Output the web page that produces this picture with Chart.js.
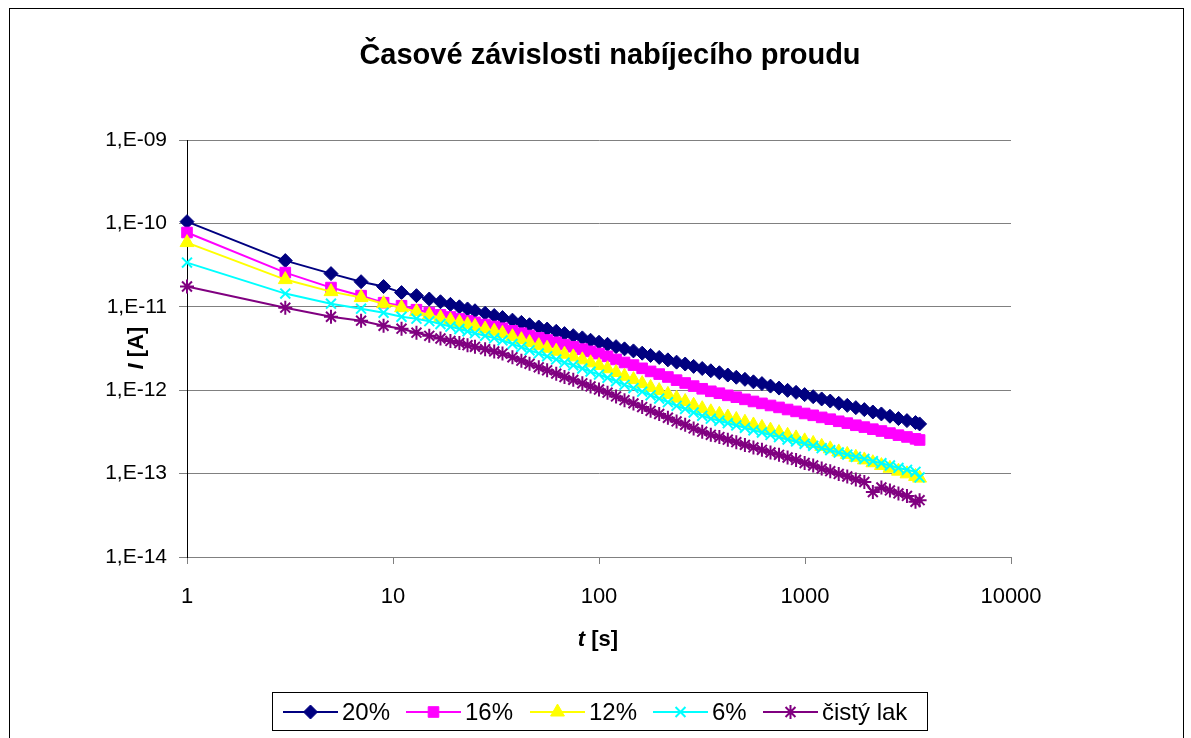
<!DOCTYPE html>
<html>
<head>
<meta charset="utf-8">
<script src="https://cdn.jsdelivr.net/npm/chart.js@4.4.0/dist/chart.umd.min.js"></script>
<style>
  html, body { margin: 0; padding: 0; background: #fff; }
  #chart { display: block; }
</style>
</head>
<body>
<canvas id="chart" width="1191" height="738"></canvas>
<script>
// time points [s]
const times = [1, 3, 5, 7, 9, 11, 13,
  15, 17, 19, 21, 23, 25, 28, 31, 34, 38, 42, 46, 51, 56, 62, 68, 75, 83, 91,
  100, 110, 121, 133, 147, 162, 178, 196, 216, 238, 262, 288, 317, 349, 384, 422, 464, 511, 562, 618,
  680, 748, 823, 905, 996, 1096, 1205, 1326, 1458, 1604, 1765, 1941, 2135, 2349, 2584, 2842, 3126, 3439, 3600];

// currents [A]
const i20 = [1.05e-10, 3.58e-11, 2.50e-11, 2.00e-11, 1.75e-11, 1.48e-11, 1.36e-11,
  1.24e-11, 1.15e-11, 1.07e-11, 1.00e-11, 9.42e-12, 8.97e-12, 8.37e-12, 7.86e-12, 7.43e-12,
  6.92e-12, 6.50e-12, 6.10e-12, 5.73e-12, 5.41e-12, 5.08e-12, 4.77e-12, 4.51e-12, 4.24e-12, 3.97e-12,
  3.76e-12, 3.55e-12, 3.33e-12, 3.13e-12, 2.96e-12, 2.78e-12, 2.61e-12, 2.47e-12, 2.31e-12, 2.17e-12,
  2.06e-12, 1.93e-12, 1.82e-12, 1.71e-12, 1.62e-12, 1.52e-12, 1.43e-12, 1.35e-12, 1.26e-12, 1.20e-12,
  1.12e-12, 1.06e-12, 9.96e-13, 9.42e-13, 8.85e-13, 8.36e-13, 7.85e-13, 7.41e-13, 6.96e-13, 6.58e-13,
  6.18e-13, 5.85e-13, 5.48e-13, 5.19e-13, 4.87e-13, 4.57e-13, 4.32e-13, 4.09e-13, 3.94e-13];
const i16 = [7.78e-11, 2.57e-11, 1.70e-11, 1.36e-11, 1.12e-11, 1.03e-11, 9.23e-12,
  8.55e-12, 8.00e-12, 7.55e-12, 7.15e-12, 6.78e-12, 6.50e-12, 6.13e-12, 5.81e-12, 5.53e-12,
  5.15e-12, 4.82e-12, 4.52e-12, 4.24e-12, 4.00e-12, 3.75e-12, 3.52e-12, 3.32e-12, 3.11e-12, 2.92e-12,
  2.75e-12, 2.55e-12, 2.34e-12, 2.15e-12, 2.00e-12, 1.83e-12, 1.68e-12, 1.56e-12, 1.44e-12, 1.32e-12,
  1.22e-12, 1.12e-12, 1.04e-12, 9.70e-13, 9.20e-13, 8.68e-13, 8.24e-13, 7.77e-13, 7.33e-13, 6.95e-13,
  6.56e-13, 6.22e-13, 5.87e-13, 5.57e-13, 5.26e-13, 5.00e-13, 4.72e-13, 4.49e-13, 4.24e-13, 4.03e-13,
  3.80e-13, 3.61e-13, 3.41e-13, 3.24e-13, 3.06e-13, 2.89e-13, 2.75e-13, 2.61e-13, 2.53e-13];
const i12 = [5.89e-11, 2.12e-11, 1.52e-11, 1.29e-11, 1.09e-11, 9.75e-12, 8.73e-12,
  7.98e-12, 7.40e-12, 6.90e-12, 6.49e-12, 6.10e-12, 5.81e-12, 5.42e-12, 5.09e-12, 4.80e-12,
  4.38e-12, 4.03e-12, 3.72e-12, 3.42e-12, 3.18e-12, 2.93e-12, 2.70e-12, 2.51e-12, 2.31e-12, 2.13e-12,
  1.98e-12, 1.81e-12, 1.63e-12, 1.47e-12, 1.34e-12, 1.20e-12, 1.08e-12, 9.88e-13, 8.91e-13, 8.03e-13,
  7.31e-13, 6.59e-13, 6.00e-13, 5.51e-13, 5.15e-13, 4.77e-13, 4.46e-13, 4.13e-13, 3.83e-13, 3.58e-13,
  3.32e-13, 3.10e-13, 2.88e-13, 2.68e-13, 2.47e-13, 2.30e-13, 2.12e-13, 1.98e-13, 1.82e-13, 1.70e-13,
  1.57e-13, 1.46e-13, 1.35e-13, 1.25e-13, 1.16e-13, 1.07e-13, 9.93e-14, 9.25e-14, 8.83e-14];
const i6 = [3.39e-11, 1.44e-11, 1.09e-11, 9.49e-12, 8.49e-12, 7.60e-12, 7.20e-12,
  6.73e-12, 6.22e-12, 5.78e-12, 5.42e-12, 5.08e-12, 4.83e-12, 4.49e-12, 4.21e-12, 3.95e-12,
  3.58e-12, 3.29e-12, 3.01e-12, 2.76e-12, 2.55e-12, 2.34e-12, 2.14e-12, 1.99e-12, 1.82e-12, 1.67e-12,
  1.54e-12, 1.41e-12, 1.28e-12, 1.16e-12, 1.06e-12, 9.59e-13, 8.69e-13, 7.94e-13, 7.19e-13, 6.50e-13,
  5.96e-13, 5.40e-13, 4.93e-13, 4.56e-13, 4.30e-13, 4.02e-13, 3.78e-13, 3.54e-13, 3.30e-13, 3.11e-13,
  2.91e-13, 2.74e-13, 2.56e-13, 2.43e-13, 2.28e-13, 2.15e-13, 2.02e-13, 1.91e-13, 1.79e-13, 1.69e-13,
  1.59e-13, 1.50e-13, 1.41e-13, 1.33e-13, 1.25e-13, 1.17e-13, 1.11e-13, 1.05e-13, 9.0e-14];
const iLak = [1.75e-11, 9.75e-12, 7.60e-12, 6.81e-12, 5.93e-12, 5.46e-12, 4.89e-12,
  4.49e-12, 4.17e-12, 3.90e-12, 3.68e-12, 3.47e-12, 3.31e-12, 3.10e-12, 2.92e-12, 2.75e-12,
  2.48e-12, 2.26e-12, 2.07e-12, 1.88e-12, 1.73e-12, 1.58e-12, 1.44e-12, 1.33e-12, 1.21e-12, 1.11e-12,
  1.02e-12, 9.33e-13, 8.42e-13, 7.60e-13, 6.95e-13, 6.27e-13, 5.66e-13, 5.18e-13, 4.67e-13, 4.22e-13,
  3.85e-13, 3.48e-13, 3.18e-13, 2.92e-13, 2.74e-13, 2.55e-13, 2.38e-13, 2.21e-13, 2.06e-13, 1.93e-13,
  1.79e-13, 1.68e-13, 1.56e-13, 1.46e-13, 1.34e-13, 1.25e-13, 1.15e-13, 1.07e-13, 9.91e-14, 9.23e-14,
  8.51e-14, 7.93e-14, 6.00e-14, 6.81e-14, 6.28e-14, 5.79e-14, 5.40e-14, 4.60e-14, 4.80e-14];

const names = ['20%', '16%', '12%', '6%', 'čistý lak'];
const xTicks = [1, 10, 100, 1000, 10000];
const yTicks = [1e-14, 1e-13, 1e-12, 1e-11, 1e-10, 1e-9];

const FONT = "'Liberation Sans', Arial, sans-serif";
const colors = ['#000080', '#FF00FF', '#FFFF00', '#00FFFF', '#800080'];
const styles = [
  { pointStyle: 'rectRot', radius: 7, bw: 1 },
  { pointStyle: 'rect', radius: 7.5, bw: 1 },
  { pointStyle: 'triangle', radius: 8, bw: 1 },
  { pointStyle: 'crossRot', radius: 7, bw: 2 },
  { pointStyle: 'star', radius: 7, bw: 2 }
];

function makeSet(k, vals) {
  return {
    label: names[k],
    data: times.map((t, i) => ({ x: t, y: vals[i] })),
    borderColor: colors[k],
    backgroundColor: colors[k],
    borderWidth: 2,
    pointStyle: styles[k].pointStyle,
    pointRadius: styles[k].radius,
    pointBorderWidth: styles[k].bw,
    pointBorderColor: colors[k],
    pointBackgroundColor: colors[k],
    tension: 0,
    clip: false,
    order: 4 - k
  };
}

function expLabel(v) {
  const e = Math.round(Math.log10(v));
  const a = Math.abs(e);
  return '1,E' + (e < 0 ? '-' : '+') + (a < 10 ? '0' + a : a);
}

// title, axis titles, legend and outer frame
const decor = {
  id: 'decor',
  afterDraw(chart) {
    const ctx = chart.ctx;
    ctx.save();
    ctx.strokeStyle = '#000';
    ctx.lineWidth = 1;
    ctx.strokeRect(9.5, 8.5, 1174, 800);

    ctx.fillStyle = '#000';
    ctx.textBaseline = 'alphabetic';
    ctx.textAlign = 'center';
    ctx.font = 'bold 29px ' + FONT;
    ctx.fillText('Časové závislosti nabíjecího proudu', 610, 64);

    // mixed italic/bold axis titles
    function mixed(parts, cx, cy, rot) {
      ctx.save();
      ctx.translate(cx, cy);
      ctx.rotate(rot);
      ctx.textAlign = 'left';
      ctx.textBaseline = 'middle';
      let w = 0;
      parts.forEach(p => { ctx.font = p[1] + ' 22px ' + FONT; w += ctx.measureText(p[0]).width; });
      let x = -w / 2;
      parts.forEach(p => {
        ctx.font = p[1] + ' 22px ' + FONT;
        ctx.fillText(p[0], x, 0);
        x += ctx.measureText(p[0]).width;
      });
      ctx.restore();
    }
    mixed([['I', 'italic bold'], [' [A]', 'bold']], 137, 348, -Math.PI / 2);
    mixed([['t', 'italic bold'], [' [s]', 'bold']], 598, 640, 0);

    // legend
    ctx.strokeStyle = '#000';
    ctx.lineWidth = 1;
    ctx.strokeRect(272.5, 692.5, 655, 38);
    const starts = [283, 406, 530, 653, 763];
    const cy = 712;
    ctx.font = '24px ' + FONT;
    ctx.textAlign = 'left';
    ctx.textBaseline = 'middle';
    names.forEach((n, k) => {
      const x0 = starts[k];
      ctx.strokeStyle = colors[k];
      ctx.fillStyle = colors[k];
      ctx.lineWidth = 2;
      ctx.beginPath();
      ctx.moveTo(x0, cy);
      ctx.lineTo(x0 + 55, cy);
      ctx.stroke();
      ctx.lineWidth = styles[k].bw;
      Chart.helpers.drawPoint(ctx, {
        pointStyle: styles[k].pointStyle,
        radius: styles[k].radius,
        rotation: 0,
        borderWidth: styles[k].bw
      }, x0 + 27.5, cy);
      ctx.fillStyle = '#000';
      ctx.fillText(n, x0 + 59, cy + 1);
    });
    ctx.restore();
  }
};

new Chart(document.getElementById('chart'), {
  type: 'line',
  data: {
    datasets: [makeSet(0, i20), makeSet(1, i16), makeSet(2, i12), makeSet(3, i6), makeSet(4, iLak)]
  },
  options: {
    responsive: false,
    animation: false,
    devicePixelRatio: 1,
    layout: { padding: { left: 20, right: 180, top: 140, bottom: 111 } },
    plugins: {
      legend: { display: false },
      title: { display: false },
      tooltip: { enabled: false }
    },
    scales: {
      x: {
        type: 'logarithmic',
        min: 1,
        max: 10000,
        afterBuildTicks: s => { s.ticks = xTicks.map(v => ({ value: v })); },
        afterFit: s => { s.height = 70; },
        ticks: {
          color: '#000',
          font: { family: FONT, size: 22 },
          padding: 20,
          maxRotation: 0,
          autoSkip: false,
          callback: v => String(v)
        },
        grid: { drawOnChartArea: false, color: '#808080', tickLength: 7 },
        border: { color: '#808080' }
      },
      y: {
        type: 'logarithmic',
        min: 1e-14,
        max: 1e-9,
        afterBuildTicks: s => { s.ticks = yTicks.map(v => ({ value: v })); },
        afterFit: s => { s.width = 167; },
        ticks: {
          color: '#000',
          font: { family: FONT, size: 21 },
          padding: 12,
          callback: v => expLabel(v)
        },
        grid: { color: '#808080', tickLength: 8, tickColor: '#808080' },
        border: { color: '#000' }
      }
    }
  },
  plugins: [decor]
});
</script>
</body>
</html>
